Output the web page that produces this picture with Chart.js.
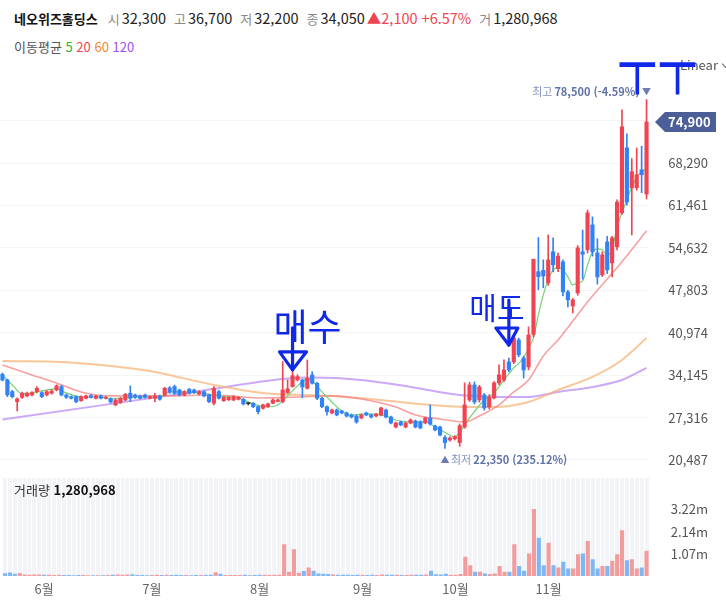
<!DOCTYPE html>
<html lang="ko">
<head>
<meta charset="utf-8">
<title>네오위즈홀딩스</title>
<script src="https://cdn.jsdelivr.net/npm/chart.js@4.4.1/dist/chart.umd.min.js"></script>
<style>
  html, body { margin:0; padding:0; background:#fff; }
  body { width:726px; height:615px; position:relative; overflow:hidden;
         font-family:'Noto Sans CJK KR','Noto Sans',sans-serif; color:#333; }
  canvas { position:absolute; left:0; }
  #price { top:0; }
  #volume { top:470px; }
  .row { position:absolute; left:14px; white-space:nowrap; font-size:13px; line-height:18px; }
  #head { top:9px; }
  #maRow { top:38px; color:#555; }
  .name { font-weight:700; font-size:13px; color:#111; margin-right:2px; }
  .k { color:#888; margin-left:8px; margin-right:2px; }
  .v { color:#222; font-size:14.5px; }
  .up { color:#f04452; margin-left:2px; font-size:14.5px; }
  #volLabel { position:absolute; left:14px; top:481px; font-size:13px; line-height:18px; color:#333; }
  #volLabel b { color:#111; font-weight:600; }
  #scaleMode { position:absolute; left:680px; top:56px; font-size:13px; line-height:18px; color:#555; white-space:nowrap; }
  #scaleMode i { display:inline-block; width:5px; height:5px; border-right:1.3px solid #666;
                 border-bottom:1.3px solid #666; transform:rotate(45deg); margin-left:5px; position:relative; top:-3px; }
  #pen { position:absolute; left:617px; top:29px; font-size:38px; line-height:44px; color:#1028e8;
         transform:scale(1.15,1.85); transform-origin:0 0; white-space:nowrap; }
</style>
</head>
<body>
<div id="head" class="row"></div>
<div id="maRow" class="row">이동평균 <span style="color:#2cb52c">5</span> <span style="color:#f04452">20</span> <span style="color:#f28a2e">60</span> <span style="color:#9b51f0">120</span></div>
<canvas id="price" width="726" height="480"></canvas>
<canvas id="volume" width="726" height="145"></canvas>
<div id="volLabel"></div>
<div id="scaleMode">Linear<i></i></div>
<div id="pen">ㅜㅜ</div>

<script>
// ---- trading calendar (KRX, 2021) ----
const mayDays = [20,21,24,25,26,27,28,31];
const junDays = [1,2,3,4,7,8,9,10,11,14,15,16,17,18,21,22,23,24,25,28,29,30];
const julDays = [1,2,5,6,7,8,9,12,13,14,15,16,19,20,21,22,23,26,27,28,29,30];
const augDays = [2,3,4,5,6,9,10,11,12,13,17,18,19,20,23,24,25,26,27,30,31];
const sepDays = [1,2,3,6,7,8,9,10,13,14,15,16,17,23,24,27,28,29,30];
const octDays = [1,5,6,7,8,12,13,14,15,18,19,20,21,22,25,26,27,28,29];
const novDays = [1,2,3,4,5,8,9,10,11,12,15,16,17,18,19,22,23,24,25,26,29];

// ---- daily prices ----
const opens = [
  34290,33370,31490,29880,30580,30800,30960,31490,31330,30960,
  31230,31760,32300,30960,30680,30680,30040,30420,30850,30420,
  30800,30420,30360,29350,29720,30150,31230,30960,30800,30960,
  30420,30420,30800,30960,32100,32300,31760,30960,31870,31760,
  31120,31490,30960,29620,31490,30040,30200,30150,30260,30260,
  29560,29610,29070,28810,29070,29620,29900,29880,31330,32300,
  33370,33370,32030,34180,32840,30420,29070,28060,28540,28380,
  28060,27730,27570,27250,28060,27730,27570,27730,28540,27410,
  25800,26610,25800,26450,26770,26610,26450,27250,25960,25800,
  24100,23700,23900,23300,25800,30150,32570,30150,30950,29020,
  30470,32890,33370,36270,36270,39810,36900,35460,40700,50800,
  51000,48990,54000,51300,52380,47540,45290,47380,54000,54310,
  58330,53830,50280,55600,52200,54800,60270,70740,64300,64300,
  67200,63300
];
const highs = [
  34500,33500,31700,30500,31400,31400,31500,32300,31500,31650,
  31800,32600,32500,31100,30800,30800,30800,30950,31000,30900,
  30950,30750,30500,30300,30550,31200,32410,31100,30950,31100,
  30800,31230,30950,32200,32300,32550,31900,31650,32000,31900,
  31650,31600,31100,32300,31700,30700,30700,30850,30700,30400,
  29720,29750,29200,29500,29650,30300,30300,36320,33370,36700,
  34200,33500,36590,34710,33000,30600,29200,28700,28700,28500,
  28200,27900,27700,27900,28200,27900,28000,29000,28700,27550,
  26600,26750,26600,27100,26930,26800,27400,29350,26100,25950,
  24400,24200,24400,26300,32900,33000,33050,32500,31200,31000,
  33100,35790,36590,36900,40800,40100,37200,41900,52800,56300,
  52700,56720,56240,53800,52700,47800,46500,55000,57500,60700,
  59620,56100,54000,56500,56500,62360,76860,73000,69000,70700,
  71000,78500
];
const lows = [
  33200,30680,30500,28380,30400,30650,30800,31300,30500,30800,
  31100,31600,30800,30400,30300,29700,29900,30300,30450,30300,
  30300,30300,29650,29200,29600,30000,29880,30400,30300,30450,
  30300,29880,30100,30800,31200,31000,30800,30800,31100,31200,
  31000,30650,29700,29350,30300,29900,30050,30000,30150,29350,
  29350,28900,27900,28650,28950,29500,29850,29700,31200,32200,
  33200,30500,31900,32700,30200,28900,27700,27900,27600,27900,
  27400,27250,26400,27100,27600,27250,27450,27600,27250,26300,
  25650,26000,25650,26300,25650,25500,26300,26100,25150,24350,
  22350,23500,23700,22700,25600,29900,29500,29800,28500,28700,
  30300,32600,33100,34700,36000,37100,33700,35000,40300,47900,
  48200,48600,50760,50800,46900,45130,44160,47000,49600,53800,
  53300,48800,50000,50500,49960,54300,60000,61500,56700,63900,
  63500,62500
];
const closes = [
  33370,30960,30680,30310,31230,31230,31330,32030,30680,31490,
  31600,32410,30960,30580,30420,29880,30680,30800,30580,30800,
  30420,30580,29830,30150,30420,31070,30420,30580,30420,30580,
  30680,30800,30260,32030,31400,31230,30960,31490,31230,31330,
  31490,30800,29880,32030,30420,30580,30580,30680,30580,29510,
  29560,29070,28270,29350,29510,30150,30150,31760,31950,34050,
  33900,32250,33640,32840,30420,29070,28270,28540,27730,28060,
  27570,27410,26610,27730,27730,27410,27900,28860,27410,26450,
  26450,26120,26450,26930,25800,25640,27250,26290,25320,24510,
  23300,24030,24250,26000,29350,32570,29830,32250,28860,30630,
  32890,34180,34980,34980,40130,37400,34980,40620,52800,50000,
  50100,52700,51900,53300,47540,46260,46260,54630,53600,60270,
  53990,49960,53500,51090,56240,62000,74120,62040,66900,66400,
  66400,74900
];
const volumes = [
  120000,150000,90000,130000,60000,50000,55000,60000,45000,40000,
  38000,50000,35000,28000,25000,30000,28000,22000,25000,20000,
  24000,30000,45000,60000,40000,55000,70000,30000,28000,25000,
  35000,40000,30000,45000,35000,40000,30000,28000,25000,30000,
  28000,30000,45000,160000,90000,35000,30000,32000,28000,40000,
  30000,35000,45000,40000,35000,40000,45000,1520000,190000,1280968,
  140000,220000,400000,240000,110000,90000,80000,60000,50000,45000,
  40000,38000,50000,45000,35000,40000,38000,55000,45000,50000,
  40000,35000,38000,40000,45000,50000,60000,240000,70000,60000,
  90000,45000,50000,80000,910000,510000,190000,190000,110000,80000,
  110000,470000,190000,190000,1520000,470000,240000,1070000,3220000,1840000,
  510000,1590000,510000,400000,670000,350000,350000,1040000,1070000,1680000,
  790000,350000,470000,470000,720000,1040000,2200000,750000,790000,350000,
  400000,1200000
];

// ---- moving averages: [day index, value] ----
const ma5 = [
  [0,34180],[2,32570],[4,31120],[6,31280],[8,31600],[11,31920],[13,31280],[16,30630],
  [20,30630],[22,30310],[24,30470],[28,30630],[32,30630],[34,31440],[36,31440],[40,31280],
  [44,30800],[48,30470],[51,29510],[54,29020],[56,29350],[58,30800],[60,32410],[62,33530],
  [63,33210],[65,31440],[67,29830],[69,28380],[71,27730],[74,27900],[78,27570],[80,26930],
  [83,26610],[86,26610],[88,25800],[91,24510],[92,24190],[93,24990],[95,27250],[98,30150],
  [100,31280],[102,33370],[104,35300],[106,36920],[107,38530],[108,40140],[109,43840],[110,47060],
  [111,49480],[112,51090],[113,51410],[114,51090],[115,49960],[116,48670],[117,48990],[118,49320],
  [119,51890],[120,53990],[121,54470],[122,54310],[123,53500],[124,54310],[125,58010],[126,60270],
  [127,62360],[128,64460],[129,65900],[130,66870],[131,67350]
];
const ma20 = [
  [0,35790],[6,34180],[11,32890],[16,31440],[22,30800],[33,30800],[43,30960],[53,30470],
  [60,30630],[67,30800],[73,30310],[80,29020],[84,27730],[89,27090],[94,26610],[97,27570],
  [101,29350],[104,31440],[107,33370],[110,37240],[113,39810],[119,45930],[126,52380],[131,57370]
];
const ma60 = [
  [0,36430],[12,36270],[20,35790],[30,34820],[33,34340],[43,32570],[53,31280],[67,30800],
  [77,30150],[87,29350],[94,29020],[100,29020],[107,29830],[113,31760],[120,33860],[126,36590],[131,40130]
];
const ma120 = [
  [0,26990],[20,29280],[40,31570],[57,33530],[63,33770],[73,33370],[83,32245],[93,30960],
  [101,30630],[107,30630],[113,31440],[120,32245],[126,33370],[131,35300]
];

// ---- axis ticks ----
const priceTicks = [20487,27316,34145,40974,47803,54632,61461,68290,75119];
const volumeTicks = [1073000,2146000,3219000];
const volumeTickLabels = ['1.07m','2.14m','3.22m'];

// ---- focused (crosshair) day and hand notes ----
const focusIndex = 59;
const buyNote  = { text:'매수', index:59,  price:35000 };
const sellNote = { text:'매도', index:103, price:39000 };

const pad = n => String(n).padStart(2,'0');
const fmt = n => Math.round(n).toString().replace(/\B(?=(\d{3})+(?!\d))/g, ',');

const dates = [];
[[5,mayDays],[6,junDays],[7,julDays],[8,augDays],[9,sepDays],[10,octDays],[11,novDays]]
  .forEach(([m, days]) => days.forEach(d => dates.push(`2021-${pad(m)}-${pad(d)}`)));
const N = dates.length;
const monthOf = i => +dates[i].slice(5,7);

const UP = '#f04452', DOWN = '#3182f6', FLAT = '#333333';
const UP_VOL = '#f29c9e', DOWN_VOL = '#7fb7f3', FLAT_VOL = '#bbbbbb';
const dir = i => Math.sign(closes[i] - opens[i]);
const candleColors = dates.map((_, i) => dir(i) > 0 ? UP : dir(i) < 0 ? DOWN : FLAT);
const volColors = dates.map((_, i) => dir(i) > 0 ? UP_VOL : dir(i) < 0 ? DOWN_VOL : FLAT_VOL);

function series(pairs) {
  const d = new Array(N).fill(null);
  pairs.forEach(([i, v]) => { d[i] = v; });
  return d;
}

// ---- header texts from the focused day ----
(function () {
  const i = focusIndex;
  const chg = closes[i] - closes[i-1];
  const pct = (chg / closes[i-1] * 100).toFixed(2);
  const sign = chg >= 0 ? '▲' : '▼';
  document.getElementById('head').innerHTML =
    `<span class="name">네오위즈홀딩스</span>` +
    `<span class="k">시</span><span class="v">${fmt(opens[i])}</span>` +
    `<span class="k">고</span><span class="v">${fmt(highs[i])}</span>` +
    `<span class="k">저</span><span class="v">${fmt(lows[i])}</span>` +
    `<span class="k">종</span><span class="v">${fmt(closes[i])}</span>` +
    `<span class="up">${sign}${fmt(Math.abs(chg))} ${chg >= 0 ? '+' : ''}${pct}%</span>` +
    `<span class="k">거</span><span class="v">${fmt(volumes[i])}</span>`;
  document.getElementById('volLabel').innerHTML = `거래량 <b>${fmt(volumes[i])}</b>`;
})();

const FONT = "'Noto Sans CJK KR','Noto Sans',sans-serif";
Chart.defaults.font.family = FONT;
Chart.defaults.font.size = 13;
Chart.defaults.color = '#555';

const PEN = '#1028e8';

function drawArrow(ctx, px, tipY, shaft, left, right, headH) {
  ctx.beginPath();
  ctx.moveTo(px, tipY - shaft);
  ctx.lineTo(px, tipY);
  ctx.stroke();
  ctx.beginPath();
  ctx.moveTo(px - left, tipY - headH);
  ctx.lineTo(px + right, tipY - headH);
  ctx.lineTo(px, tipY);
  ctx.closePath();
  ctx.stroke();
}

const pricePlugin = {
  id: 'priceMarks',
  afterDatasetsDraw(chart) {
    const { ctx, chartArea, scales: { x, y } } = chart;
    ctx.save();

    // highest / lowest markers
    let hiIdx = 0, loIdx = 0;
    highs.forEach((v, i) => { if (v > highs[hiIdx]) hiIdx = i; });
    lows.forEach((v, i) => { if (v < lows[loIdx]) loIdx = i; });
    const last = closes[N-1];
    const hi = highs[hiIdx], lo = lows[loIdx];
    const hiPct = ((last - hi) / hi * 100).toFixed(2);
    const loPct = ((last - lo) / lo * 100).toFixed(2);

    ctx.textBaseline = 'middle';
    let hx = x.getPixelForValue(hiIdx), hy = y.getPixelForValue(hi) - 8;
    ctx.font = `9px ${FONT}`; ctx.fillStyle = '#6b7db3'; ctx.textAlign = 'center';
    ctx.fillText('▼', hx, hy);
    ctx.textAlign = 'right';
    ctx.font = `600 11px ${FONT}`; ctx.fillStyle = '#6072a8';
    const hiTxt = `${fmt(hi)} (${hiPct}%)`;
    ctx.fillText(hiTxt, hx - 7, hy);
    const w1 = ctx.measureText(hiTxt).width;
    ctx.font = `11px ${FONT}`; ctx.fillStyle = '#8593bd';
    ctx.fillText('최고', hx - 9 - w1, hy);

    let lx = x.getPixelForValue(loIdx), ly = y.getPixelForValue(lo) + 11;
    ctx.font = `9px ${FONT}`; ctx.fillStyle = '#6b7db3'; ctx.textAlign = 'center';
    ctx.fillText('▲', lx, ly);
    ctx.textAlign = 'left';
    ctx.font = `11px ${FONT}`; ctx.fillStyle = '#8593bd';
    ctx.fillText('최저', lx + 6, ly);
    const w2 = ctx.measureText('최저').width;
    ctx.font = `600 11px ${FONT}`; ctx.fillStyle = '#6072a8';
    ctx.fillText(`${fmt(lo)} (${loPct}%)`, lx + 8 + w2, ly);

    // last price tag on the value axis
    const ty = y.getPixelForValue(last);
    const tl = chartArea.right + 6;
    ctx.fillStyle = '#4b5e97';
    ctx.beginPath();
    ctx.moveTo(tl, ty);
    ctx.lineTo(tl + 10, ty - 10);
    ctx.lineTo(716, ty - 10);
    ctx.lineTo(716, ty + 10);
    ctx.lineTo(tl + 10, ty + 10);
    ctx.closePath();
    ctx.fill();
    ctx.fillStyle = '#fff';
    ctx.font = `600 13px ${FONT}`;
    ctx.textAlign = 'left';
    ctx.fillText(fmt(last), chartArea.right + 19, ty + 0.5);

    // hand-written buy / sell notes
    ctx.strokeStyle = PEN; ctx.fillStyle = PEN;
    ctx.lineWidth = 3.2; ctx.lineCap = 'round'; ctx.lineJoin = 'round';
    let bx = x.getPixelForValue(buyNote.index), by = y.getPixelForValue(buyNote.price);
    drawArrow(ctx, bx, by, 42, 13, 14, 18);
    ctx.font = `37px ${FONT}`; ctx.textAlign = 'center';
    ctx.fillText(buyNote.text, bx + 15, by - 43);

    let sx = x.getPixelForValue(sellNote.index), sy = y.getPixelForValue(sellNote.price);
    drawArrow(ctx, sx, sy, 45, 13, 9, 17);
    ctx.font = `30px ${FONT}`;
    ctx.fillText(sellNote.text, sx - 12, sy - 37);

    ctx.restore();
  }
};

// right-hand value axis: fixed width, labels right-aligned at its far edge
const rightAxis = (extra) => Object.assign({
  position: 'right',
  afterFit: s => { s.width = 59; },
  border: { display: false }
}, extra);

const priceChart = new Chart(document.getElementById('price'), {
  type: 'bar',
  data: {
    labels: dates,
    datasets: [
      { label: 'body', data: dates.map((_, i) => [Math.min(opens[i], closes[i]), Math.max(opens[i], closes[i])]),
        backgroundColor: candleColors, barThickness: 3.5, grouped: false, minBarLength: 1, order: 0 },
      { label: 'wick', data: dates.map((_, i) => [lows[i], highs[i]]),
        backgroundColor: candleColors, barThickness: 1, grouped: false, order: 1 },
      { type: 'line', label: 'MA5', data: series(ma5), borderColor: '#74d374', borderWidth: 1.2,
        pointRadius: 0, spanGaps: true, cubicInterpolationMode: 'monotone', order: 2 },
      { type: 'line', label: 'MA20', data: series(ma20), borderColor: 'rgba(244,130,130,0.75)', borderWidth: 1.6,
        pointRadius: 0, spanGaps: true, cubicInterpolationMode: 'monotone', order: 3 },
      { type: 'line', label: 'MA60', data: series(ma60), borderColor: 'rgba(247,180,120,0.75)', borderWidth: 2,
        pointRadius: 0, spanGaps: true, cubicInterpolationMode: 'monotone', order: 4 },
      { type: 'line', label: 'MA120', data: series(ma120), borderColor: 'rgba(184,140,245,0.75)', borderWidth: 2,
        pointRadius: 0, spanGaps: true, cubicInterpolationMode: 'monotone', order: 5 }
    ]
  },
  options: {
    responsive: false, animation: false, events: [],
    layout: { padding: { top: 75, bottom: 10, left: 0, right: 18 } },
    plugins: { legend: { display: false }, tooltip: { enabled: false } },
    scales: {
      x: { type: 'category', display: false, offset: true },
      y: rightAxis({
        min: 18877, max: 82454,
        afterBuildTicks: s => { s.ticks = priceTicks.map(v => ({ value: v })); },
        grid: { color: '#f3f4f6', drawTicks: false },
        ticks: { padding: 0, crossAlign: 'far', color: '#555', font: { size: 13 },
                 callback: v => v === priceTicks[priceTicks.length - 1] ? '' : fmt(v) }
      })
    }
  },
  plugins: [pricePlugin]
});

const panelBg = {
  id: 'panelBg',
  beforeDraw(chart) {
    const { ctx, chartArea: a } = chart;
    ctx.save();
    ctx.fillStyle = '#f3f4f8';
    ctx.fillRect(a.left, a.top, a.right - a.left, a.bottom - a.top);
    ctx.restore();
  }
};

const volumeChart = new Chart(document.getElementById('volume'), {
  type: 'bar',
  data: {
    labels: dates,
    datasets: [{ data: volumes, backgroundColor: volColors, barThickness: 3.5, borderWidth: 0 }]
  },
  options: {
    responsive: false, animation: false, events: [],
    layout: { padding: { top: 7, bottom: 0, left: 0, right: 18 } },
    plugins: { legend: { display: false }, tooltip: { enabled: false } },
    scales: {
      x: {
        type: 'category', offset: true,
        grid: { offset: true, color: '#ffffff', lineWidth: 1, drawTicks: false },
        border: { display: false },
        afterFit: s => { s.height = 39; },
        ticks: { autoSkip: false, maxRotation: 0, padding: 5, color: '#666', font: { size: 13 },
                 callback: (v, i) => (i > 0 && monthOf(i) !== monthOf(i - 1)) ? monthOf(i) + '월' : '' }
      },
      y: rightAxis({
        min: 0, max: 4750000,
        afterBuildTicks: s => { s.ticks = volumeTicks.map(v => ({ value: v })); },
        grid: { display: false },
        ticks: { padding: 0, crossAlign: 'far', color: '#555', font: { size: 13 },
                 callback: (v, i) => volumeTickLabels[i] }
      })
    }
  },
  plugins: [panelBg]
});
</script>
</body>
</html>
